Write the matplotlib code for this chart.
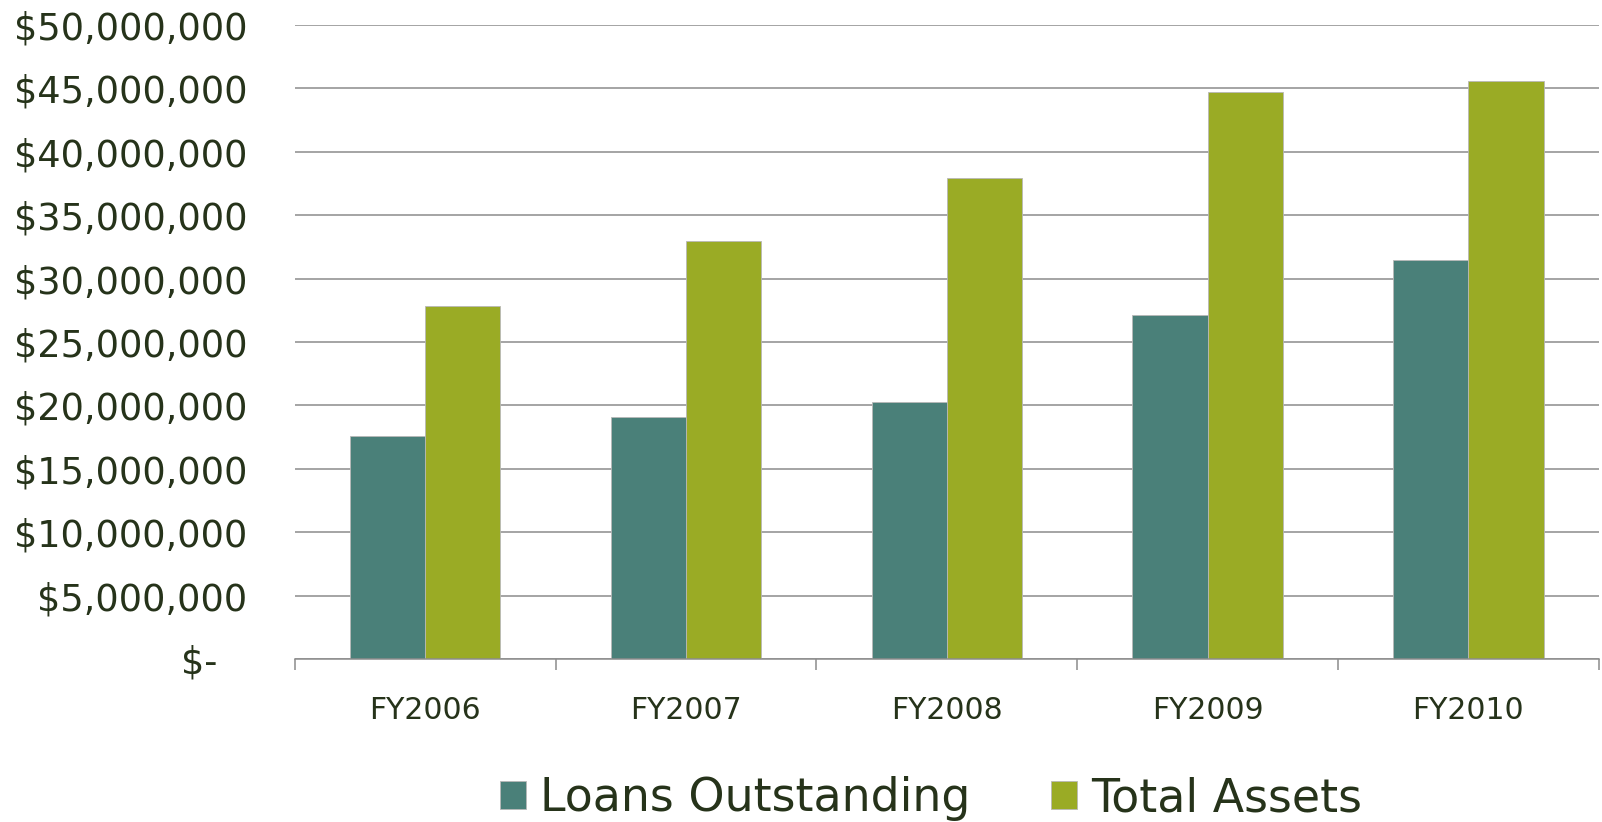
import numpy as np
import matplotlib
matplotlib.use("Agg")
import matplotlib.pyplot as plt
from matplotlib.ticker import FuncFormatter, FixedLocator

years = ["FY2006", "FY2007", "FY2008", "FY2009", "FY2010"]
loans_outstanding = [17.6e6, 19.1e6, 20.3e6, 27.1e6, 31.5e6]
total_assets = [27.8e6, 33.0e6, 37.9e6, 44.7e6, 45.6e6]
series_names = ["Loans Outstanding", "Total Assets"]

TEAL = "#4a8079"
OLIVE = "#9aab25"
TEXT = "#26331a"
GRID = "#8c8c8c"


def money(value, pos):
    if value == 0:
        return "$-  \u2009"
    return "${:,.0f}".format(value)


def main():
    fig = plt.figure(figsize=(16.02, 8.22), dpi=100)
    ax = fig.add_axes([0.184, 0.1983, 0.814, 0.7713])

    x = np.arange(len(years))
    width = 0.288
    ax.bar(x - width / 2, loans_outstanding, width, color=TEAL,
           edgecolor="#b8b8b8", linewidth=0.6, label=series_names[0], zorder=3)
    ax.bar(x + width / 2, total_assets, width, color=OLIVE,
           edgecolor="#b8b8b8", linewidth=0.6, label=series_names[1], zorder=3)

    ax.set_xlim(-0.5, len(years) - 0.5)
    ax.set_ylim(0, 50e6)
    ax.set_yticks(np.arange(0, 50e6 + 1, 5e6))
    ax.yaxis.set_major_formatter(FuncFormatter(money))
    ax.grid(axis="y", color=GRID, linewidth=1.1, zorder=0)

    # category boundaries get tick marks, labels sit on minor ticks
    ax.xaxis.set_major_locator(FixedLocator(np.arange(-0.5, len(years), 1.0)))
    ax.xaxis.set_major_formatter(plt.NullFormatter())
    ax.xaxis.set_minor_locator(FixedLocator(x))
    ax.set_xticklabels(years, minor=True)
    ax.tick_params(axis="x", which="major", length=8, width=1.1, color=GRID,
                   direction="out")
    ax.tick_params(axis="x", which="minor", length=0, pad=27,
                   labelsize=21.5, labelcolor=TEXT)
    ax.tick_params(axis="y", length=0, pad=34, labelsize=26.5, labelcolor=TEXT)

    for side in ["left", "right", "top"]:
        ax.spines[side].set_visible(False)
    ax.spines["bottom"].set_color(GRID)
    ax.spines["bottom"].set_linewidth(1.1)
    ax.spines["bottom"].set_zorder(4)

    fig.legend(loc="center", bbox_to_anchor=(0.581, 0.028), ncol=2,
               frameon=False, fontsize=33, labelcolor=TEXT,
               handlelength=0.57, handleheight=0.57, handletextpad=0.31,
               columnspacing=1.75)

    fig.savefig("out.png", dpi=100)
    plt.close(fig)


if __name__ == '__main__':
    main()
